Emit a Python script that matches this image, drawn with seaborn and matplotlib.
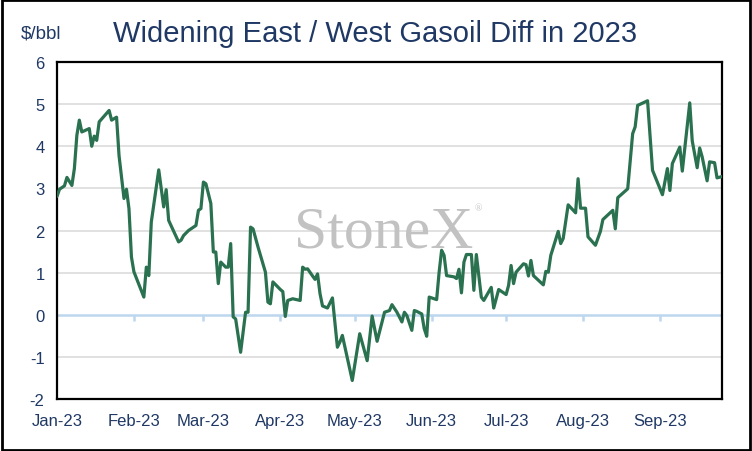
import numpy as np
import pandas as pd
import matplotlib
matplotlib.use("Agg")
import matplotlib.pyplot as plt
import seaborn as sns
from matplotlib.patches import Rectangle

# ---- data ----
# days since 1 Jan 2023
day_offsets = [0, 1, 3, 4, 6, 7, 8, 9, 10, 13, 14, 15, 16, 17, 21, 22, 24, 25, 27, 28,
               29, 30, 31, 35, 36, 37, 38, 41, 43, 44, 45, 49, 50, 51, 53, 56, 57, 58, 59, 60,
               62, 63, 64, 65, 66, 68, 69, 70, 71, 72, 74, 76, 77, 78, 79, 81, 84, 85, 86, 87,
               90, 91, 92, 93, 95, 98, 99, 100, 101, 103, 104, 105, 106, 107, 109, 111, 113, 114, 115, 119,
               122, 125, 127, 129, 132, 134, 135, 137, 139, 140, 141, 143, 144, 145, 147, 148, 149, 150, 152, 153,
               154, 155, 156, 157, 160, 161, 162, 163, 164, 165, 167, 168, 169, 171, 172, 175, 176, 178, 181, 182,
               183, 184, 185, 188, 189, 190, 191, 192, 196, 197, 198, 199, 202, 203, 204, 206, 209, 210, 211, 213,
               214, 217, 219, 220, 224, 225, 226, 230, 232, 233, 234, 238, 240, 244, 246, 247, 248, 251, 252, 255,
               256, 258, 259, 260, 262, 263, 265, 266, 268]
diff_values = [2.81, 2.98, 3.06, 3.26, 3.07, 3.47, 4.26, 4.62, 4.34, 4.42, 4.00, 4.24, 4.14, 4.58, 4.85, 4.62, 4.69, 3.78, 2.76, 2.98,
               2.52, 1.37, 1.02, 0.42, 1.13, 0.93, 2.20, 3.44, 2.56, 2.97, 2.24, 1.73, 1.77, 1.88, 2.00, 2.12, 2.48, 2.52, 3.15, 3.11,
               2.64, 1.49, 1.49, 0.74, 1.25, 1.13, 1.13, 1.69, -0.05, -0.10, -0.89, 0.06, 0.06, 2.08, 2.04, 1.61, 1.01, 0.30, 0.26, 0.78,
               0.60, 0.55, -0.04, 0.34, 0.38, 0.34, 1.13, 1.08, 1.09, 0.92, 0.84, 0.97, 0.50, 0.21, 0.16, 0.40, -0.77, -0.65, -0.49, -1.56,
               -0.45, -1.09, -0.03, -0.63, 0.06, 0.10, 0.24, 0.06, -0.17, 0.06, -0.02, -0.37, 0.10, 0.08, 0.02, -0.33, -0.51, 0.42, 0.38, 0.36,
               1.01, 1.53, 1.41, 0.93, 0.90, 0.86, 1.08, 0.52, 1.25, 1.43, 1.43, 0.58, 1.43, 0.42, 0.34, 0.65, 0.16, 0.60, 0.48, 0.70,
               1.17, 0.74, 1.01, 1.21, 1.19, 0.92, 1.29, 0.93, 0.71, 1.03, 1.01, 1.41, 1.98, 1.69, 1.81, 2.61, 2.42, 3.23, 2.53, 2.53,
               1.85, 1.65, 1.98, 2.26, 2.48, 2.04, 2.78, 2.99, 4.30, 4.46, 4.97, 5.08, 3.43, 2.85, 3.47, 2.95, 3.59, 3.98, 3.41, 5.03,
               4.13, 3.49, 3.96, 3.75, 3.18, 3.63, 3.61, 3.25, 3.28]
month_ticks = ["2023-01-01", "2023-02-01", "2023-03-01", "2023-04-01", "2023-05-01",
               "2023-06-01", "2023-07-01", "2023-08-01", "2023-09-01"]
month_labels = ["Jan-23", "Feb-23", "Mar-23", "Apr-23", "May-23", "Jun-23", "Jul-23", "Aug-23", "Sep-23"]
y_ticks = [-2, -1, 0, 1, 2, 3, 4, 5, 6]
title_text = "Widening East / West Gasoil Diff in 2023"
unit_text = "$/bbl"
watermark = "StoneX"

# ---- style ----
sns.set_theme(style="white")
plt.rcParams["font.family"] = ["Liberation Sans", "DejaVu Sans"]
NAVY = "#1F3864"
GREEN = "#2A7150"

base = pd.Timestamp("2023-01-01")
df = pd.DataFrame({"date": base + pd.to_timedelta(day_offsets, unit="D"),
                   "diff": diff_values})
ticks = pd.to_datetime(month_ticks)

fig = plt.figure(figsize=(7.52, 4.52), dpi=100)
ax = fig.add_axes([0.0758, 0.1150, 0.8843, 0.7456])

# grid lines
for yv in y_ticks:
    if yv == 0:
        continue
    ax.axhline(yv, color="#D9D9D9", lw=1.1, zorder=0)
ax.axhline(0, color="#BDD7EE", lw=1.8, zorder=1)
ax.vlines(ticks[1:], -0.14, 0, color="#BDD7EE", lw=1.8, zorder=1)

# watermark
ax.text(0.492, 0.495, watermark, transform=ax.transAxes, fontsize=43,
        family="Liberation Serif", color="#C2C2C2", ha="center", va="center", zorder=1)
ax.text(0.634, 0.567, "®", transform=ax.transAxes, fontsize=7,
        family="Liberation Serif", color="#C2C2C2", ha="center", va="center", zorder=1)

sns.lineplot(data=df, x="date", y="diff", ax=ax, color=GREEN, lw=2.3, zorder=3)

ax.set_xlim(base, pd.Timestamp("2023-09-26"))
ax.set_ylim(-2, 6)
ax.set_xticks(ticks)
ax.set_xticklabels(month_labels)
ax.set_yticks(y_ticks)
ax.set_yticklabels([str(v) for v in y_ticks])
ax.tick_params(axis="x", length=0, pad=10, labelsize=12, labelcolor=NAVY)
ax.tick_params(axis="y", length=0, pad=9, labelsize=12, labelcolor=NAVY)
ax.set_xlabel("")
ax.set_ylabel("")
for s in ax.spines.values():
    s.set_visible(True)
    s.set_color("black")
    s.set_linewidth(1.6)

fig.text(0.4987, 0.925, title_text, ha="center", va="center", fontsize=21, color=NAVY)
fig.text(0.0545, 0.925, unit_text, ha="center", va="center", fontsize=13.5, color=NAVY)

fig.patches.append(Rectangle((0.002, 0.003), 0.996, 0.994, transform=fig.transFigure,
                             fill=False, edgecolor="black", lw=2.0))

fig.savefig("out.png", dpi=100)
